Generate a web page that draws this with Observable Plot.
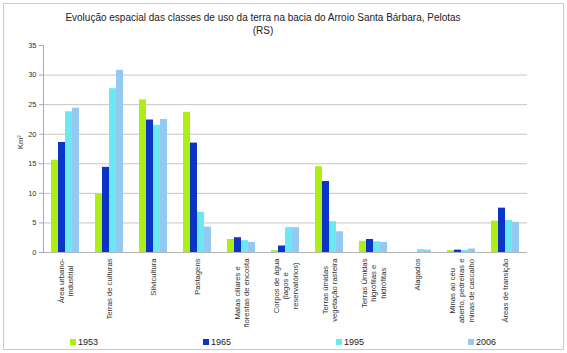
<!DOCTYPE html>
<html><head><meta charset="utf-8">
<script src="https://cdn.jsdelivr.net/npm/d3@7"></script>
<script src="https://cdn.jsdelivr.net/npm/@observablehq/plot@0.6"></script>
<style>
body{margin:0;background:#fff;font-family:"Liberation Sans",Arial,sans-serif;}
#wrap{position:relative;width:567px;height:353px;overflow:hidden;background:#fff;}
#frame{position:absolute;left:3px;top:3px;width:559px;height:345px;border:1px solid #cbcbcb;}
#title{position:absolute;left:13px;top:10.5px;width:500px;text-align:center;font-size:10px;line-height:13px;color:#222;}
#chart{position:absolute;left:0;top:0;}
.lg{position:absolute;top:336px;font-size:9px;color:#222;line-height:12px;white-space:nowrap;}
.sw{display:inline-block;width:6px;height:6px;margin-right:2px;vertical-align:0px;}
</style></head><body>
<div id="wrap"><div id="frame"></div><div id="chart"></div><div id="title">Evolução espacial das classes de uso da terra na bacia do Arroio Santa Bárbara, Pelotas<br>(RS)</div><div id="legend"></div></div>
<script>
const categories = ["Área urbano-industrial","Terras de culturas","Silvicultura","Pastagens","Matas ciliares e florestas de encosta","Corpos de água (lagos e reservatórios)","Terras úmidas vegetação rasteira","Terras Úmidas higrófilas e hidrófitas","Alagados","Minas ao céu aberto, pedreiras e minas de cascalho","Áreas de transição"];
const categoryLabels = ["Área urbano-\nindustrial","Terras de culturas","Silvicultura","Pastagens","Matas ciliares e\nflorestas de encosta","Corpos de água\n(lagos e\nreservatórios)","Terras úmidas\nvegetação rasteira","Terras Úmidas\nhigrófilas e\nhidrófitas","Alagados","Minas ao céu\naberto, pedreiras e\nminas de cascalho","Áreas de transição"];
const years = ["1953","1965","1995","2006"];
const v1953 = [15.6, 9.9, 25.8, 23.7, 2.2, 0.3, 14.5, 1.9, 0, 0.3, 5.3];
const v1965 = [18.6, 14.4, 22.4, 18.5, 2.5, 1.1, 12.0, 2.2, 0, 0.4, 7.5];
const v1995 = [23.8, 27.7, 21.5, 6.8, 2.0, 4.2, 5.2, 1.8, 0.5, 0.35, 5.4];
const v2006 = [24.4, 30.8, 22.5, 4.3, 1.7, 4.2, 3.5, 1.7, 0.4, 0.6, 5.1];
const yTicks = [0, 5, 10, 15, 20, 25, 30, 35];
const yLabel = "Km²";
const colors = ["#adee14", "#0b35c6", "#6ce8f3", "#95c9f2"];

const series = [v1953, v1965, v1995, v2006];
const table = categories.flatMap((c, i) => years.map((y, j) => ({category: c, year: y, value: series[j][i]})));

const fs = 7.7;
const ctx = document.createElement("canvas").getContext("2d");
ctx.font = `${fs}px "Liberation Sans"`;
const labelMarks = categories.map((c, i) => {
  const lines = categoryLabels[i].split("\n");
  const w = Math.max(...lines.map(l => ctx.measureText(l).width));
  return Plot.text([c], {fx: d => d, text: [categoryLabels[i]], frameAnchor: "bottom", rotate: -90,
    textAnchor: "middle", lineAnchor: "middle", lineHeight: 1.2, dy: 6 + w / 2, fontSize: fs, fill: "#333"});
});

const chart = Plot.plot({
  width: 567, height: 353,
  marginTop: 45, marginBottom: 101, marginLeft: 42, marginRight: 40,
  style: {fontFamily: "'Liberation Sans', Arial, sans-serif", background: "transparent"},
  fx: {domain: categories, padding: 0, axis: null, label: null},
  x: {domain: years, paddingInner: 0, paddingOuter: 0.756, axis: null},
  y: {domain: [0, 35], axis: null},
  color: {domain: years, range: colors},
  marks: [
    Plot.gridY(yTicks.filter(t => t > 0 && t < 35), {stroke: "#c6c6c6", strokeOpacity: 1}),
    Plot.barY(table, {fx: "category", x: "year", y: "value", fill: "year", inset: 0}),
    Plot.ruleY([0], {stroke: "#b4b4b4"}),
    Plot.frame({anchor: "left", facetAnchor: "left", stroke: "#aaa"}),
    Plot.axisY({ticks: yTicks, tickSize: 4, tickPadding: 3, fontSize: 7.5, stroke: "#aaa", fill: "#333", label: null}),
    Plot.text([yLabel], {frameAnchor: "left", text: d => d, rotate: -90, dx: -23, fontSize: 7.5, fill: "#333", facetAnchor: "left"}),
    ...labelMarks
  ]
});
document.getElementById("chart").appendChild(chart);

const legend = document.getElementById("legend");
const legendLeft = [70, 203, 336, 468];
years.forEach((y, i) => {
  const d = document.createElement("div");
  d.className = "lg";
  d.style.left = legendLeft[i] + "px";
  d.innerHTML = `<span class="sw" style="background:${colors[i]}"></span>${y}`;
  legend.appendChild(d);
});
</script>
</body></html>
